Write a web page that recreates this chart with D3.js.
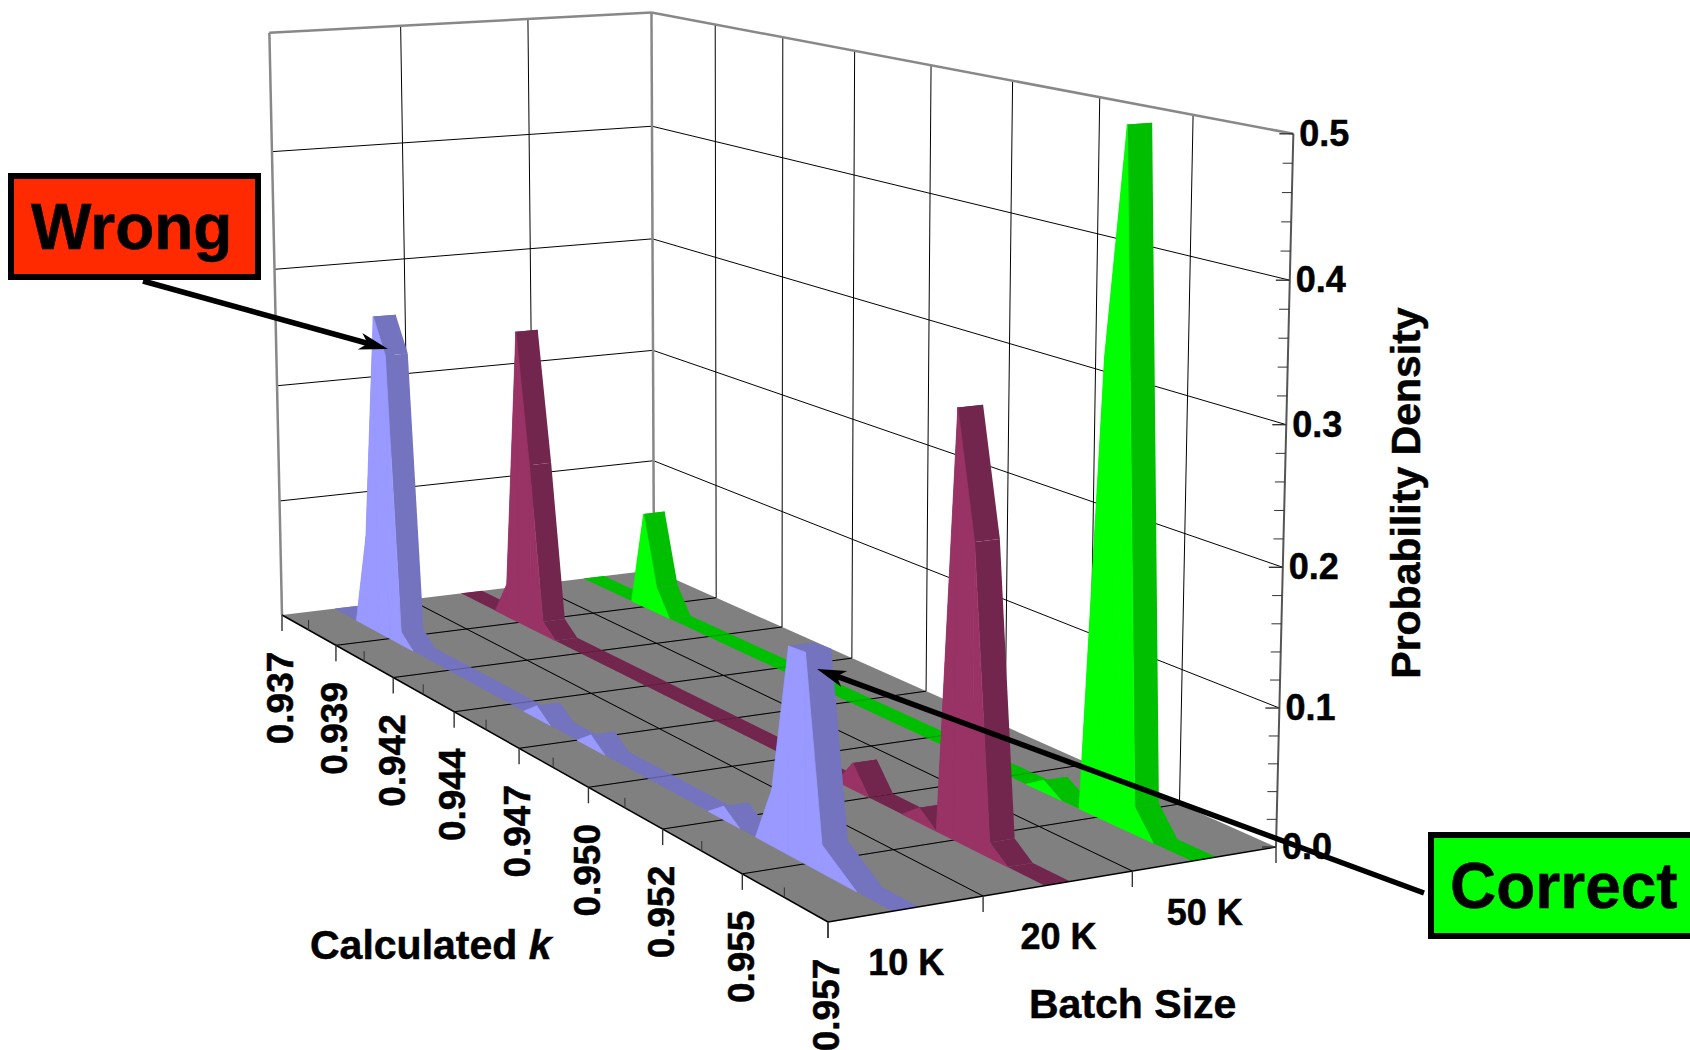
<!DOCTYPE html>
<html>
<head>
<meta charset="utf-8">
<script src="https://cdn.jsdelivr.net/npm/d3@7"></script>
<style>
body { margin: 0; background: #fff; overflow: hidden; }
text { font-family: "Liberation Sans", Arial, sans-serif; font-weight: bold; fill: #000; stroke: #000; stroke-width: 0.5; }
</style>
</head>
<body>
<div id="chart"></div>
<script>
// Batch sizes along the depth axis
var batches = ['10 K', '20 K', '50 K'];

// Calculated k axis
var kTicks = [0.937, 0.9395, 0.942, 0.9445, 0.947, 0.9495, 0.952, 0.9545, 0.957];
var kLabels = ['0.937', '0.939', '0.942', '0.944', '0.947', '0.950', '0.952', '0.955', '0.957'];
var densityTicks = [0, 0.1, 0.2, 0.3, 0.4, 0.5];

// Probability density per batch size
var k10 = [0.937, 0.938, 0.9385, 0.939, 0.9395, 0.94, 0.9405, 0.945, 0.9455, 0.946, 0.947, 0.9475, 0.948, 0.9515, 0.952, 0.9525, 0.953, 0.9535, 0.954, 0.9545, 0.955, 0.9555, 0.956, 0.957];
var d10 = [0, 0, 0.078, 0.27, 0.241, 0.011, 0, 0, 0.01, 0, 0, 0.01, 0, 0, 0.01, 0, 0, 0.041, 0.149, 0.15, 0.02, 0.01, 0, 0];
var k20 = [0.937, 0.9385, 0.939, 0.9395, 0.94, 0.9405, 0.941, 0.951, 0.9515, 0.952, 0.953, 0.9535, 0.954, 0.9545, 0.955, 0.9555, 0.956, 0.957];
var d20 = [0, 0, 0.028, 0.251, 0.141, 0.011, 0, 0, 0.02, 0, 0, 0.011, 0, 0.309, 0.219, 0.011, 0, 0];
var k50 = [0.937, 0.939, 0.9395, 0.94, 0.9405, 0.9525, 0.953, 0.9535, 0.954, 0.9545, 0.955, 0.9555, 0.956, 0.957];
var d50 = [0, 0, 0.082, 0.022, 0, 0, 0.009, 0, 0, 0.334, 0.5, 0.02, 0, 0];

var seriesK = [k10, k20, k50];
var seriesD = [d10, d20, d50];
var lightColors = ['#9999ff', '#993366', '#00ff00'];
var darkColors = ['#7373bf', '#73264d', '#00bf00'];

var width = 1690, height = 1050;
var bandLow = 0.41, bandHigh = 0.58;

var xScale = d3.scaleLinear().domain([0.937, 0.957]).range([0, 1]);
var yScale = d3.scaleLinear().domain([0, batches.length]).range([0, 1]);
var zScale = d3.scaleLinear().domain([0, 0.5]).range([0, 1]);

// Picture corners of the box: floor, then three of the top corners.
var floorCorners = [[282, 615], [828, 922], [1276, 847], [654, 570]];
var topCorners = [[0, 0, 269.5, 30], [0, 1, 652, 11], [1, 1, 1292.5, 139]];

function homography(q) {
    // Maps the unit square onto the quad q.
    var x0 = q[0][0], y0 = q[0][1], x1 = q[1][0], y1 = q[1][1], x2 = q[2][0], y2 = q[2][1], x3 = q[3][0], y3 = q[3][1];
    var dx1 = x1 - x2, dx2 = x3 - x2, sx = x0 - x1 + x2 - x3;
    var dy1 = y1 - y2, dy2 = y3 - y2, sy = y0 - y1 + y2 - y3;
    var den = dx1 * dy2 - dx2 * dy1;
    var g = (sx * dy2 - dx2 * sy) / den, h = (dx1 * sy - sx * dy1) / den;
    return { a: x1 - x0 + g * x1, b: x3 - x0 + h * x3, c: x0, d: y1 - y0 + g * y1, e: y3 - y0 + h * y3, f: y0, g: g, h: h };
}

function solve(A, b) {
    var n = b.length;
    var M = A.map(function (r, i) { return r.concat([b[i]]); });
    for (var i = 0; i < n; i++) {
        var p = i;
        for (var r = i + 1; r < n; r++) if (Math.abs(M[r][i]) > Math.abs(M[p][i])) p = r;
        var t = M[i]; M[i] = M[p]; M[p] = t;
        for (r = 0; r < n; r++) {
            if (r == i) continue;
            var f = M[r][i] / M[i][i];
            for (var c = i; c <= n; c++) M[r][c] -= f * M[i][c];
        }
    }
    return M.map(function (r, i) { return r[n] / r[i]; });
}

var H = homography(floorCorners);

// Fit the height column of the camera matrix to the top corners (least squares).
var heightColumn = (function () {
    var N = [[0, 0, 0], [0, 0, 0], [0, 0, 0]], B = [0, 0, 0];
    function add(row, val) {
        for (var a = 0; a < 3; a++) {
            B[a] += row[a] * val;
            for (var b = 0; b < 3; b++) N[a][b] += row[a] * row[b];
        }
    }
    topCorners.forEach(function (t) {
        var X = H.a * t[0] + H.b * t[1] + H.c, Y = H.d * t[0] + H.e * t[1] + H.f, W = H.g * t[0] + H.h * t[1] + 1;
        add([1, 0, -t[2]], t[2] * W - X);
        add([0, 1, -t[3]], t[3] * W - Y);
    });
    return solve(N, B);
})();

function project(k, b, density) {
    var u = xScale(k), v = yScale(b), z = zScale(density);
    var w = H.g * u + H.h * v + 1 + heightColumn[2] * z;
    return [(H.a * u + H.b * v + H.c + heightColumn[0] * z) / w, (H.d * u + H.e * v + H.f + heightColumn[1] * z) / w];
}

var svg = d3.select('#chart').append('svg').attr('width', width).attr('height', height);
var path = d3.line();

function line3d(g, a, b, color, w) {
    g.append('path')
        .attr('d', path([project(a[0], a[1], a[2]), project(b[0], b[1], b[2])]))
        .attr('fill', 'none')
        .attr('stroke', color)
        .attr('stroke-width', w);
}

function poly(g, pts, color) {
    return g.append('path').attr('d', path(pts) + 'Z').attr('fill', color);
}

var kMin = 0.937, kMax = 0.957, bMax = batches.length, dMax = 0.5;
var batchTicks = d3.range(0, bMax + 1);
var wallGrid = svg.append('g');

// Walls
densityTicks.slice(1, -1).forEach(function (d) {
    line3d(wallGrid, [kMin, 0, d], [kMin, bMax, d], '#000', 1);
    line3d(wallGrid, [kMin, bMax, d], [kMax, bMax, d], '#000', 1);
});
batchTicks.slice(1, -1).forEach(function (b) {
    line3d(wallGrid, [kMin, b, 0], [kMin, b, dMax], '#000', 1);
});
kTicks.slice(1, -1).forEach(function (k) {
    line3d(wallGrid, [k, bMax, 0], [k, bMax, dMax], '#000', 1);
});
line3d(wallGrid, [kMin, 0, 0], [kMin, 0, dMax], '#888', 2.5);
line3d(wallGrid, [kMin, bMax, 0], [kMin, bMax, dMax], '#888', 2.5);
line3d(wallGrid, [kMin, 0, dMax], [kMin, bMax, dMax], '#888', 2.5);
line3d(wallGrid, [kMin, bMax, dMax], [kMax, bMax, dMax], '#888', 2.5);

// Floor
poly(svg.append('g'), [project(kMin, 0, 0), project(kMax, 0, 0), project(kMax, bMax, 0), project(kMin, bMax, 0)], '#808080');

function floorGrid(g, opacity) {
    var o = g.append('g').attr('opacity', opacity);
    kTicks.slice(1, -1).forEach(function (k) { line3d(o, [k, 0, 0], [k, bMax, 0], '#000', 1); });
    batchTicks.slice(1, -1).forEach(function (b) { line3d(o, [kMin, b, 0], [kMax, b, 0], '#000', 1); });
}
floorGrid(svg, 1);

// Flat parts of the ribbons lie on the floor, the grid shows faintly through them.
var flat = svg.append('g');
var raised = svg.append('g');
function segment(g, i, j, color) {
    var b0 = i + bandLow, b1 = i + bandHigh, K = seriesK[i], D = seriesD[i];
    poly(g, [project(K[j], b0, D[j]), project(K[j + 1], b0, D[j + 1]), project(K[j + 1], b1, D[j + 1]), project(K[j], b1, D[j])], color);
}
seriesK.forEach(function (K, i) {
    d3.range(K.length - 1).forEach(function (j) {
        if (seriesD[i][j] == 0 && seriesD[i][j + 1] == 0) segment(flat, i, j, darkColors[i]);
    });
});
floorGrid(flat, 0.2);

// Peaks, back to front
d3.range(seriesK.length - 1, -1, -1).forEach(function (i) {
    var K = seriesK[i], D = seriesD[i], b0 = i + bandLow;
    d3.range(K.length - 1).forEach(function (j) {
        if (D[j] == 0 && D[j + 1] == 0) return;
        segment(raised, i, j, darkColors[i]);
        poly(raised, [project(K[j], b0, 0), project(K[j + 1], b0, 0), project(K[j + 1], b0, D[j + 1]), project(K[j], b0, D[j])], lightColors[i])
            .attr('stroke', lightColors[i])
            .attr('stroke-width', 0.8);
    });
});

// Axes
var axes = svg.append('g');
line3d(axes, [kMin, 0, 0], [kMax, 0, 0], '#000', 1.5);
line3d(axes, [kMax, 0, 0], [kMax, bMax, 0], '#000', 1.5);
line3d(axes, [kMax, bMax, 0], [kMax, bMax, dMax], '#555', 2);

function tick(x, y, dx, dy, w) {
    axes.append('path')
        .attr('d', path([[x, y], [x + dx, y + dy]]))
        .attr('fill', 'none')
        .attr('stroke', '#333')
        .attr('stroke-width', w);
}

kTicks.forEach(function (k, i) {
    var p = project(k, 0, 0);
    tick(p[0], p[1], 0, 16, 1.4);
    axes.append('text')
        .attr('transform', 'translate(' + (p[0] - 2) + ',' + (p[1] + 83) + ') rotate(-90)')
        .attr('text-anchor', 'middle')
        .attr('dy', '0.36em')
        .attr('font-size', 37)
        .text(kLabels[i]);
});
d3.pairs(kTicks).forEach(function (p) {
    var m = project(d3.mean(p), 0, 0);
    tick(m[0], m[1], 0, -10, 1);
});
batchTicks.forEach(function (b) {
    var p = project(kMax, b, 0);
    tick(p[0], p[1], 0, 16, 1.4);
});
batches.forEach(function (name, i) {
    var p = project(kMax, i + 0.5, 0);
    axes.append('text')
        .attr('x', p[0])
        .attr('y', p[1] + 66)
        .attr('text-anchor', 'middle')
        .attr('font-size', 36)
        .text(name);
});
densityTicks.forEach(function (d) {
    var p = project(kMax, bMax, d);
    tick(p[0], p[1], -14, 0, 1.4);
    axes.append('text')
        .attr('x', p[0] + 6)
        .attr('y', p[1] + 12)
        .attr('font-size', 36)
        .text(d.toFixed(1));
});
d3.pairs(densityTicks).forEach(function (p) {
    d3.range(1, 5).forEach(function (n) {
        var q = project(kMax, bMax, p[0] + (p[1] - p[0]) * n / 5);
        tick(q[0], q[1], -10, 0, 1);
    });
});

// Axis titles
var kTitle = svg.append('text').attr('x', 310).attr('y', 959).attr('font-size', 41);
kTitle.append('tspan').text('Calculated ');
kTitle.append('tspan').attr('font-style', 'italic').text('k');
svg.append('text').attr('x', 1029).attr('y', 1018).attr('font-size', 41).text('Batch Size');
svg.append('text')
    .attr('transform', 'translate(1420,493) rotate(-90)')
    .attr('text-anchor', 'middle')
    .attr('font-size', 41)
    .text('Probability Density');

// Callouts
function callout(label, box, fill, textX, textY, from, to) {
    svg.append('rect')
        .attr('x', box[0]).attr('y', box[1]).attr('width', box[2]).attr('height', box[3])
        .attr('fill', fill).attr('stroke', '#000').attr('stroke-width', 6);
    svg.append('text').attr('x', textX).attr('y', textY).attr('font-size', 64).text(label);
    var len = Math.hypot(to[0] - from[0], to[1] - from[1]);
    var ux = (to[0] - from[0]) / len, uy = (to[1] - from[1]) / len;
    function at(along, across) { return [to[0] + ux * along - uy * across, to[1] + uy * along + ux * across]; }
    svg.append('path')
        .attr('d', path([from, at(-15, 0)]))
        .attr('fill', 'none').attr('stroke', '#000').attr('stroke-width', 5.5);
    svg.append('path')
        .attr('d', path([to, at(-29, 8.5), at(-21, 0), at(-29, -8.5)]) + 'Z')
        .attr('fill', '#000');
}
callout('Wrong', [11, 176, 247, 101], '#ff2a00', 31, 249, [143, 281], [388, 349]);
callout('Correct', [1431, 835, 300, 101], '#00ff00', 1450, 908, [1424, 893], [817, 669]);
</script>
</body>
</html>
